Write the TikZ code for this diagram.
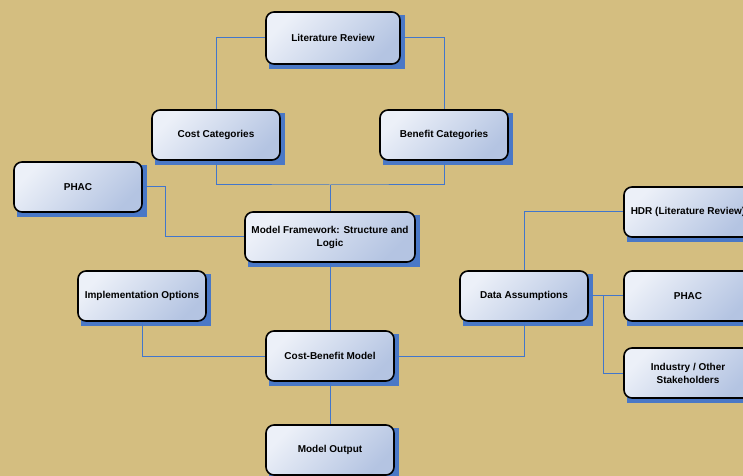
\documentclass[tikz,border=0pt]{standalone}
\usepackage{fontspec}
\setmainfont{Liberation Sans}
\usetikzlibrary{backgrounds}
\definecolor{bg}{RGB}{212,190,128}
\definecolor{shadowblue}{RGB}{74,120,198}
\definecolor{linkblue}{RGB}{66,118,204}
\definecolor{boxlight}{RGB}{236,240,248}
\definecolor{boxdark}{RGB}{180,196,226}
\tikzset{
  box/.style={draw=black, line width=1.6bp, rounded corners=8bp,
    left color=boxlight, right color=boxdark, shading angle=45,
    minimum width=128bp, minimum height=50bp, inner sep=2bp, align=center,
    font=\fontsize{10bp}{13bp}\selectfont\bfseries},
  link/.style={draw=linkblue, line width=1bp},
  shadowfill/.style={fill=shadowblue},
}
\newcommand\boxshadow[1]{\fill[shadowfill] ([shift={(4bp,-4bp)}]#1.north west) rectangle ([shift={(4bp,-4bp)}]#1.south east);}
\begin{document}
\begin{tikzpicture}[x=1bp,y=-1bp]
\clip (0,0) rectangle (743,476);
\begin{pgfonlayer}{background}
\fill[bg] (0,0) rectangle (743,476);
\end{pgfonlayer}
\node[box, minimum width=134bp, minimum height=52bp] (lit) at (333,38) {Literature Review};
\node[box] (cost) at (216,135) {Cost Categories};
\node[box] (ben) at (444,135) {Benefit Categories};
\node[box] (phac1) at (78,187) {PHAC};
\node[box, minimum width=170bp] (mf) at (330,237) {Model Framework: Structure and\\Logic};
\node[box] (hdr) at (688,212) {HDR (Literature Review)};
\node[box] (impl) at (142,296) {Implementation Options};
\node[box] (data) at (524,296) {Data Assumptions};
\node[box] (phac2) at (688,296) {PHAC};
\node[box] (ind) at (688,373) {Industry / Other\\Stakeholders};
\node[box] (cbm) at (330,356) {Cost-Benefit Model};
\node[box] (out) at (330,450) {Model Output};
\coordinate (j1) at (330,185);
\coordinate (j2) at (165,237);
\coordinate (j3) at (603,296);
\begin{pgfonlayer}{background}
\foreach \n in {lit,cost,ben,phac1,mf,hdr,impl,data,phac2,ind,cbm,out}{\boxshadow{\n}}
\end{pgfonlayer}
\draw[link] (lit.west) -| (cost.north);
\draw[link] (lit.east) -| (ben.north);
\draw[link] (cost.south) |- (j1) -| (ben.south);
\draw[link] (j1) -- (mf.north);
\draw[link] (phac1.east) -| (j2) -- (mf.west);
\draw[link] (mf.south) -- (cbm.north);
\draw[link] (impl.south) |- (cbm.west);
\draw[link] (cbm.east) -| (data.south);
\draw[link] (data.north) |- (hdr.west);
\draw[link] (data.east) -- (phac2.west);
\draw[link] (j3) |- (ind.west);
\draw[link] (cbm.south) -- (out.north);
\end{tikzpicture}
\end{document}
